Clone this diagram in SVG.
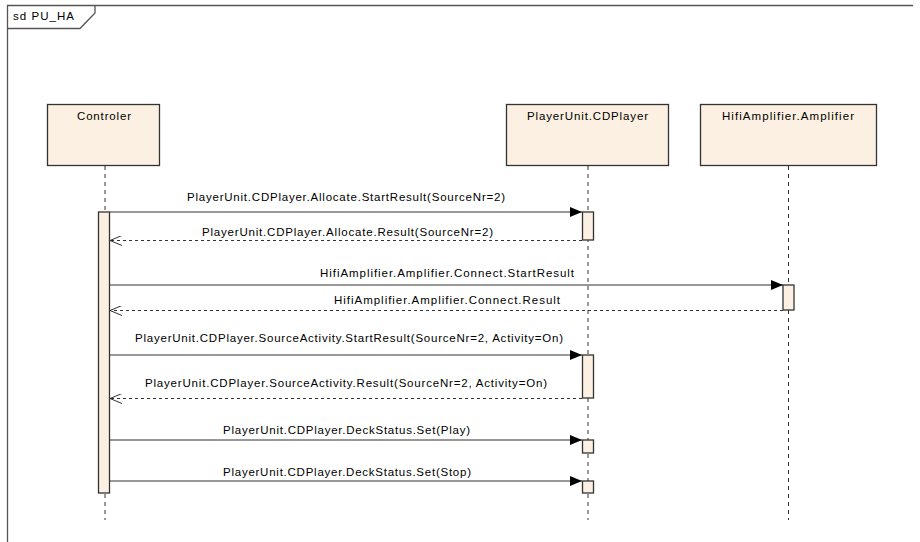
<svg xmlns="http://www.w3.org/2000/svg" width="920" height="542" viewBox="0 0 920 542">
<style>
text{font-family:"Liberation Sans",Arial,sans-serif;font-size:11.5px;fill:#000}
.box{fill:#FBF0E1;stroke:#333;stroke-width:1.3}
.act{fill:#FBF0E1;stroke:#333;stroke-width:1.3}
.life{stroke:#333;stroke-width:1;stroke-dasharray:4 4;fill:none}
.msg{stroke:#333;stroke-width:1.2;fill:none}
.ret{stroke:#333;stroke-width:1;stroke-dasharray:3 3;fill:none}
.frame{stroke:#555;stroke-width:1.3;fill:none}
</style>
<defs>
<marker id="sync" viewBox="0 0 12 10" refX="12" refY="5" markerWidth="12" markerHeight="10" markerUnits="userSpaceOnUse" orient="auto">
<path d="M0,0 L12,5 L0,10 z" fill="#000"/>
</marker>
<marker id="open" viewBox="0 0 12 10" refX="12" refY="5" markerWidth="12" markerHeight="10" markerUnits="userSpaceOnUse" orient="auto">
<path d="M0,0 L12,5 L0,10" fill="none" stroke="#333" stroke-width="1"/>
</marker>
</defs>
<rect width="920" height="542" fill="#fff"/>
<g id="frame">
<path class="frame" d="M7.5,542 V5.5 H913"/>
<path class="frame" d="M7.5,28.5 H80 L95,13 V5.5"/>
<text x="13" y="20" textLength="61" lengthAdjust="spacing">sd PU_HA</text>
</g>
<g id="lifelines">
<line class="life" x1="105" y1="166" x2="105" y2="520"/>
<line class="life" x1="588" y1="166" x2="588" y2="520"/>
<line class="life" x1="788.5" y1="166" x2="788.5" y2="520"/>
</g>
<g id="controler">
<rect class="box" x="47.5" y="104.5" width="112" height="61"/>
<text x="104" y="120" text-anchor="middle" textLength="54" lengthAdjust="spacing">Controler</text>
<rect class="act" x="98.5" y="212" width="11" height="281"/>
</g>
<g id="cdplayer">
<rect class="box" x="506.5" y="104.5" width="162" height="61"/>
<text x="587.5" y="120" text-anchor="middle" textLength="121" lengthAdjust="spacing">PlayerUnit.CDPlayer</text>
<rect class="act" x="582.5" y="212" width="11" height="28"/>
<rect class="act" x="582.5" y="355" width="11" height="43"/>
<rect class="act" x="582.5" y="440" width="11" height="13"/>
<rect class="act" x="582.5" y="481" width="11" height="12"/>
</g>
<g id="amplifier">
<rect class="box" x="700.5" y="104.5" width="176" height="61"/>
<text x="788" y="120" text-anchor="middle" textLength="132" lengthAdjust="spacing">HifiAmplifier.Amplifier</text>
<rect class="act" x="783" y="285" width="11" height="25"/>
</g>
<g id="connectors">
<line class="msg" x1="110" y1="212" x2="582" y2="212" marker-end="url(#sync)"/>
<line class="ret" x1="582" y1="240.5" x2="110" y2="240.5" marker-end="url(#open)"/>
<line class="msg" x1="110" y1="285" x2="783" y2="285" marker-end="url(#sync)"/>
<line class="ret" x1="783" y1="310.5" x2="110" y2="310.5" marker-end="url(#open)"/>
<line class="msg" x1="110" y1="355" x2="582" y2="355" marker-end="url(#sync)"/>
<line class="ret" x1="582" y1="398.5" x2="110" y2="398.5" marker-end="url(#open)"/>
<line class="msg" x1="110" y1="440" x2="582" y2="440" marker-end="url(#sync)"/>
<line class="msg" x1="110" y1="481" x2="582" y2="481" marker-end="url(#sync)"/>
</g>
<g id="labels" text-anchor="middle">
<text x="346" y="201" textLength="318" lengthAdjust="spacing">PlayerUnit.CDPlayer.Allocate.StartResult(SourceNr=2)</text>
<text x="347.5" y="236" textLength="291" lengthAdjust="spacing">PlayerUnit.CDPlayer.Allocate.Result(SourceNr=2)</text>
<text x="447" y="277" textLength="254" lengthAdjust="spacing">HifiAmplifier.Amplifier.Connect.StartResult</text>
<text x="447" y="304" textLength="226" lengthAdjust="spacing">HifiAmplifier.Amplifier.Connect.Result</text>
<text x="349" y="342" textLength="428" lengthAdjust="spacing">PlayerUnit.CDPlayer.SourceActivity.StartResult(SourceNr=2, Activity=On)</text>
<text x="346" y="387" textLength="402" lengthAdjust="spacing">PlayerUnit.CDPlayer.SourceActivity.Result(SourceNr=2, Activity=On)</text>
<text x="346.5" y="434" textLength="247" lengthAdjust="spacing">PlayerUnit.CDPlayer.DeckStatus.Set(Play)</text>
<text x="347" y="476" textLength="248" lengthAdjust="spacing">PlayerUnit.CDPlayer.DeckStatus.Set(Stop)</text>
</g>
</svg>
